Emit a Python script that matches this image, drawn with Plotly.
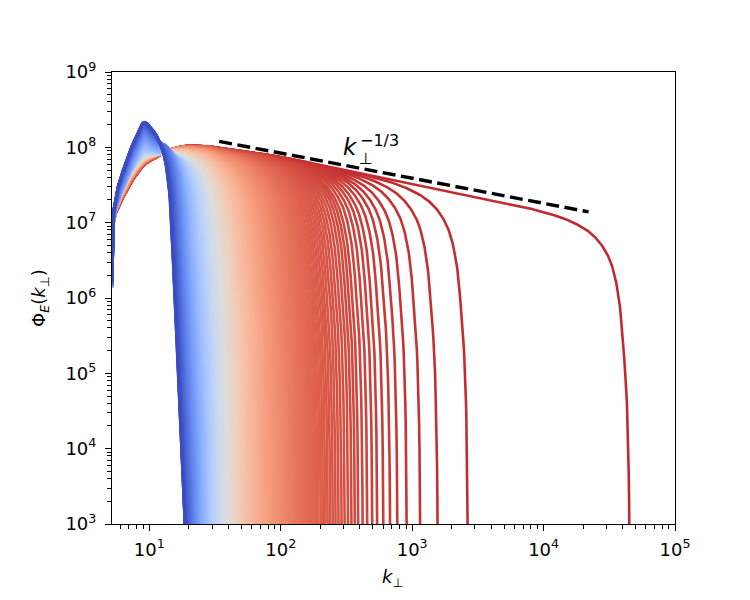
import numpy as np
import plotly.graph_objects as go

# ---------------- values (log10 units) ----------------
# initial spectrum (bluest curve): log10 k -> log10 Phi_E
init_logk   = [0.716, 0.722, 0.732, 0.809, 0.885, 0.962, 1.037, 1.100, 1.152, 1.173, 1.204, 1.267, 1.32, 1.50]
init_logphi = [6.15, 6.90, 7.17, 7.74, 8.09, 8.335, 8.185, 7.87, 7.30, 6.64, 5.44, 3.06, 1.0, -6.0]

# envelopes of the spectra (without their cut-off) at three stages of the evolution
env_logk         = [0.716, 0.722, 0.732, 0.75, 0.79, 0.886, 0.97, 1.037, 1.16, 1.30, 1.40, 1.53, 1.84, 2.38, 3.0, 3.65, 4.3, 4.7, 5.0]
env_early_logphi = [6.15, 6.85, 7.05, 7.15, 7.30, 7.60, 7.80, 8.02, 8.13, 8.06, 8.03, 7.99, 7.92, 7.74, 7.52, 7.29, 7.07, 6.94, 6.85]
env_mid_logphi   = [6.15, 6.87, 7.10, 7.25, 7.45, 7.76, 7.90, 7.95, 8.00, 8.02, 8.02, 7.99, 7.92, 7.74, 7.52, 7.29, 7.07, 6.94, 6.85]
env_late_logphi  = [6.15, 6.85, 7.05, 7.15, 7.30, 7.60, 7.78, 7.85, 7.97, 8.02, 8.02, 7.99, 7.92, 7.74, 7.52, 7.29, 7.07, 6.94, 6.85]

# drop below the envelope vs distance to the cut-off, delta = log10(k_c / k)
# late fronts (read on the last red curve)
late_delta = [0.001, 0.004, 0.013, 0.03, 0.051, 0.089, 0.166, 0.37, 0.6, 1.0, 2.0]
late_drop  = [6.5, 4.7, 3.19, 2.2, 1.66, 0.96, 0.46, 0.13, 0.04, 0.005, 0.0]
# early fronts (read on the right flank of the initial curve)
early_delta = [-0.10, 0.0, 0.068, 0.099, 0.12, 0.172, 0.235, 0.30]
early_drop  = [9.0, 5.2, 2.62, 1.43, 0.77, 0.20, 0.0, 0.0]

# evolution stages (fraction of the sequence)
stage_frac   = [0.0, 0.1, 0.2, 0.3, 0.45, 0.6, 0.8, 1.0]
peak_weight  = [1.0, 0.80, 0.60, 0.45, 0.30, 0.18, 0.07, 0.0]    # decay of the initial peak
front_shape  = [0.0, 0.15, 0.35, 0.55, 0.8, 0.95, 1.0, 1.0]      # early -> late front profile
env_frac     = [0.0, 0.15, 0.3, 0.5, 1.0]                        # envelope stage: 0 early, 1 mid, 2 late
env_stage    = [0.0, 0.0, 0.6, 1.0, 2.0]

# cut-off wavenumbers: first (bluest) front, and the separated late fronts read at the bottom axis
first_cutoff = 18.7
late_cutoffs = [310, 329, 349, 370, 393, 424, 460, 502, 548, 610, 686, 780, 920, 1164, 1578, 2680, 45700]
n_dense = 267   # densely packed fronts between the two (evenly spaced in 1/k)

# reference slope line
ref_k   = [34, 22000]
ref_phi = [1.2e8, 1.39e7]

x_ticks = [1e1, 1e2, 1e3, 1e4, 1e5]
x_ticktext = ["10<sup>1</sup>", "10<sup>2</sup>", "10<sup>3</sup>", "10<sup>4</sup>", "10<sup>5</sup>"]
y_ticks = [1e3, 1e4, 1e5, 1e6, 1e7, 1e8, 1e9]
y_ticktext = ["10<sup>%d</sup>" % p for p in range(3, 10)]

# ---------------- colormap (matplotlib coolwarm) ----------------
coolwarm = [
    (0.0, (59, 76, 192)), (0.03125, (68, 90, 204)), (0.0625, (77, 104, 215)), (0.09375, (87, 117, 225)),
    (0.125, (98, 130, 234)), (0.15625, (108, 142, 241)), (0.1875, (119, 154, 247)), (0.21875, (130, 165, 251)),
    (0.25, (141, 176, 254)), (0.28125, (152, 185, 255)), (0.3125, (163, 194, 255)), (0.34375, (174, 201, 253)),
    (0.375, (184, 208, 249)), (0.40625, (194, 213, 244)), (0.4375, (204, 217, 238)), (0.46875, (213, 219, 230)),
    (0.5, (221, 221, 221)), (0.53125, (229, 216, 209)), (0.5625, (236, 211, 197)), (0.59375, (241, 204, 185)),
    (0.625, (245, 196, 173)), (0.65625, (247, 187, 160)), (0.6875, (247, 177, 148)), (0.71875, (247, 166, 135)),
    (0.75, (244, 154, 123)), (0.78125, (241, 141, 111)), (0.8125, (236, 127, 99)), (0.84375, (229, 112, 88)),
    (0.875, (222, 96, 77)), (0.90625, (213, 80, 66)), (0.9375, (203, 62, 56)), (0.96875, (192, 40, 47)),
    (1.0, (180, 4, 38))]
cw_pos = [c[0] for c in coolwarm]
color_span = 0.965


def cmap(f):
    f = f * color_span
    r = np.interp(f, cw_pos, [c[1][0] for c in coolwarm])
    g = np.interp(f, cw_pos, [c[1][1] for c in coolwarm])
    b = np.interp(f, cw_pos, [c[1][2] for c in coolwarm])
    return "rgb(%d,%d,%d)" % (round(r), round(g), round(b))


def pchip(xk, yk, x):
    """Monotone piecewise-cubic curve through the read points (smooth, no overshoot)."""
    xk = np.asarray(xk, float)
    yk = np.asarray(yk, float)
    x = np.clip(np.asarray(x, float), xk[0], xk[-1])
    h = np.diff(xk)
    d = np.diff(yk) / h
    m = np.zeros_like(yk)
    m[0], m[-1] = d[0], d[-1]
    for j in range(1, len(xk) - 1):
        if d[j - 1] * d[j] > 0:
            w1 = 2 * h[j] + h[j - 1]
            w2 = h[j] + 2 * h[j - 1]
            m[j] = (w1 + w2) / (w1 / d[j - 1] + w2 / d[j])
    idx = np.clip(np.searchsorted(xk, x) - 1, 0, len(xk) - 2)
    t = (x - xk[idx]) / h[idx]
    h00 = 2 * t ** 3 - 3 * t ** 2 + 1
    h10 = t ** 3 - 2 * t ** 2 + t
    h01 = -2 * t ** 3 + 3 * t ** 2
    h11 = t ** 3 - t ** 2
    return h00 * yk[idx] + h10 * h[idx] * m[idx] + h01 * yk[idx + 1] + h11 * h[idx] * m[idx + 1]


log_late_delta = np.log10(late_delta)


def drop_late(delta):
    d = pchip(log_late_delta, late_drop, np.log10(np.maximum(delta, 1e-5)))
    d = d + np.where(delta < late_delta[0], (late_delta[0] - delta) * 2000.0, 0.0)
    return np.where(delta > late_delta[-1], 0.0, d)


def drop_early(delta):
    d = pchip(early_delta, early_drop, delta)
    d = d + np.where(delta < early_delta[0], (early_delta[0] - delta) * 40.0, 0.0)
    return np.where(delta > early_delta[-1], 0.0, d)


def envelope(lk, stage):
    e0 = pchip(env_logk, env_early_logphi, lk)
    e1 = pchip(env_logk, env_mid_logphi, lk)
    e2 = pchip(env_logk, env_late_logphi, lk)
    if stage <= 1.0:
        return (1 - stage) * e0 + stage * e1
    s = stage - 1.0
    return (1 - s) * e1 + s * e2


LN10 = np.log(10.0)

# ---------------- build the spectra ----------------
inv_dense = np.linspace(1.0 / first_cutoff, 1.0 / late_cutoffs[0], n_dense + 1)[:-1]
cutoffs = list(1.0 / inv_dense) + list(late_cutoffs)
n_curves = len(cutoffs)

curves = []
for i, kc in enumerate(cutoffs):
    f = i / (n_curves - 1)
    wp = np.interp(f, stage_frac, peak_weight)
    v = np.interp(f, stage_frac, front_shape)
    st = np.interp(f, env_frac, env_stage)
    lkc = np.log10(kc)
    hi = lkc + 0.05
    lk = np.arange(env_logk[0], hi, 0.004)
    refine = lkc - np.array([0.08, 0.06, 0.045, 0.035, 0.025, 0.018, 0.013, 0.009, 0.006, 0.004,
                             0.003, 0.002, 0.0015, 0.001, 0.0005, 0.0, -0.002, -0.005, -0.01, -0.02])
    lk = np.unique(np.concatenate([lk, refine[refine >= env_logk[0]], [0.719, 0.7275]]))
    lk = lk[lk <= hi]
    # initial peak (decaying)
    lbump = np.log10(max(wp, 1e-30)) + np.where(lk <= init_logk[-1], pchip(init_logk, init_logphi, lk), -30.0)
    # cascade front
    env = envelope(lk, st)
    delta = lkc - lk
    drop = (1 - v) * drop_early(delta) + v * drop_late(delta)
    lfront = env - drop
    # smooth maximum of the two parts
    lphi = np.logaddexp(4 * LN10 * lbump, 4 * LN10 * lfront) / (4 * LN10)
    below = np.nonzero(lphi < 2.7)[0]
    if len(below):
        lk = lk[:below[0] + 1]
        lphi = lphi[:below[0] + 1]
    k_vals = [float("%.5g" % v_) for v_ in 10 ** lk]
    p_vals = [float("%.4g" % v_) for v_ in 10 ** lphi]
    curves.append((k_vals, p_vals, cmap(f)))

fig = go.Figure()
# latest (red) spectra first, earliest (blue) drawn on top
for k_vals, p_vals, col in reversed(curves):
    fig.add_trace(go.Scatter(x=k_vals, y=p_vals, mode="lines",
                             line=dict(color=col, width=2.6), hoverinfo="skip", showlegend=False))

fig.add_trace(go.Scatter(x=ref_k, y=ref_phi, mode="lines",
                         line=dict(color="black", width=3.4, dash="13px,5.5px"),
                         hoverinfo="skip", showlegend=False))

font = "DejaVu Sans"
axis_common = dict(type="log", showline=True, linecolor="black", linewidth=1.1, mirror=True,
                   ticks="outside", ticklen=6, tickwidth=1.1, tickcolor="black",
                   showgrid=False, zeroline=False, tickmode="array",
                   tickfont=dict(family=font, size=18, color="black"),
                   minor=dict(ticks="outside", ticklen=3.5, tickwidth=0.9, tickcolor="black",
                              dtick="D1", showgrid=False))

fig.update_layout(
    width=750, height=600,
    margin=dict(l=112, r=75, t=72, b=76),
    paper_bgcolor="white", plot_bgcolor="white",
    showlegend=False,
    font=dict(family=font, color="black"),
    xaxis=dict(axis_common, range=[np.log10(5.2), 5], tickvals=x_ticks, ticktext=x_ticktext,
               ticklabelstandoff=3),
    yaxis=dict(axis_common, range=[3, 9], tickvals=y_ticks, ticktext=y_ticktext, ticklabelstandoff=5),
)

ann = []
common = dict(xref="paper", yref="paper", showarrow=False, xanchor="center", yanchor="middle")
# axis titles
ann.append(dict(common, text="Φ<sub><i>E</i></sub>(<i>k</i><sub>⊥</sub>)",
                x=-0.128, y=0.5, textangle=-90, font=dict(family=font, size=18, color="black")))
ann.append(dict(common, text="<i>k</i><sub>⊥</sub>",
                x=0.499, y=-0.119, font=dict(family=font, size=18, color="black")))
# slope label k_perp^{-1/3}
ann.append(dict(common, text="<i>k</i>", x=0.4245, y=0.834,
                font=dict(family=font, size=23, color="black")))
ann.append(dict(common, text="−1/3", x=0.476, y=0.849,
                font=dict(family=font, size=16, color="black")))
ann.append(dict(common, text="⊥", x=0.452, y=0.808,
                font=dict(family=font, size=16, color="black")))
fig.update_layout(annotations=ann)

fig.write_html("out.html")
